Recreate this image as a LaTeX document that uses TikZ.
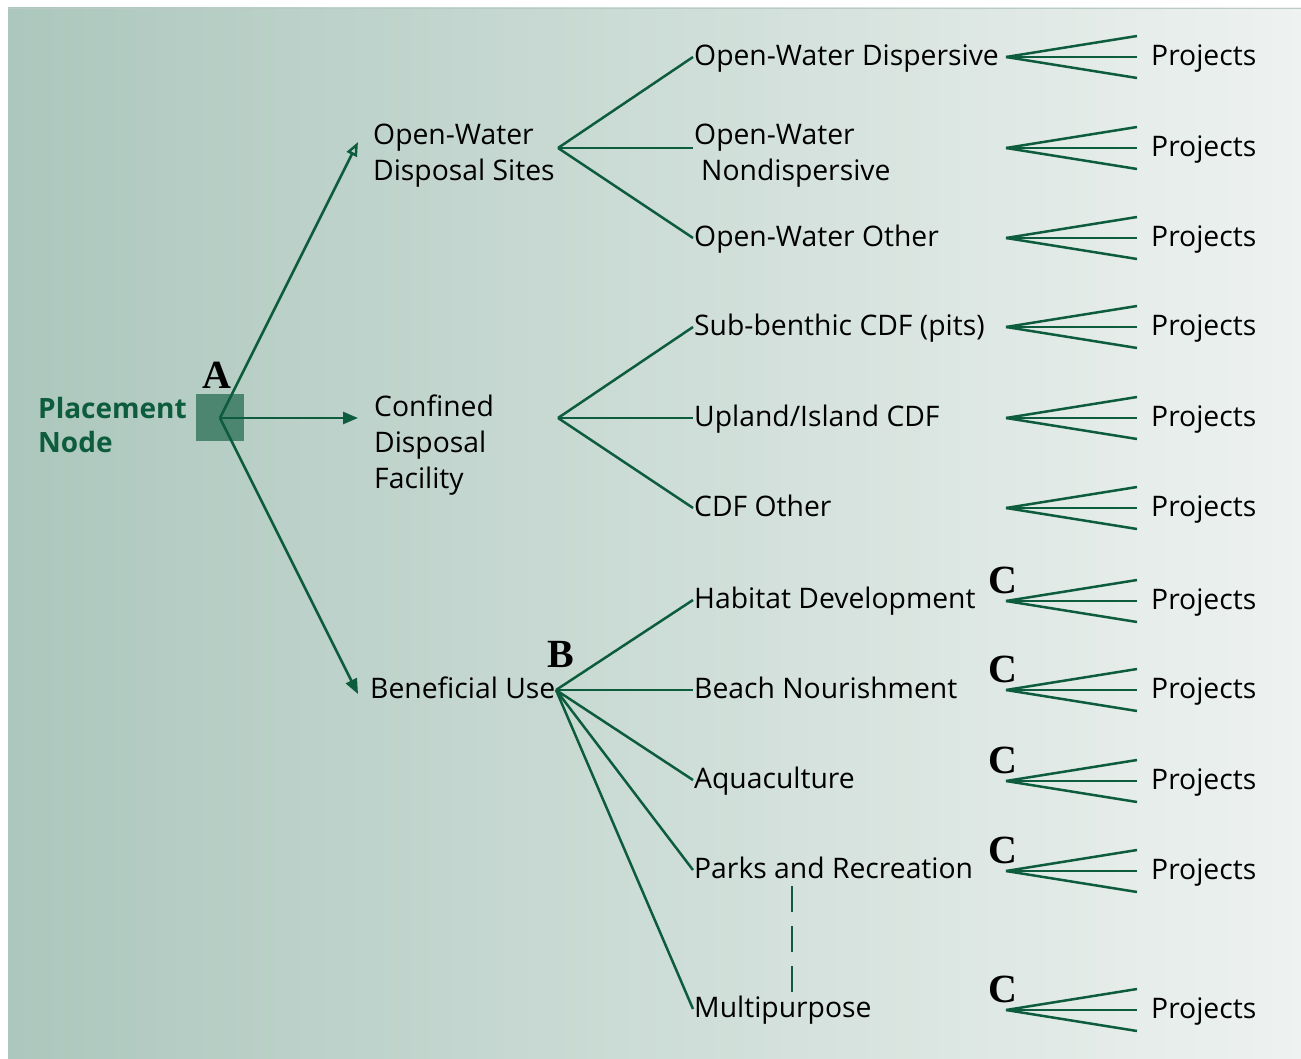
\documentclass[tikz,border=0pt]{standalone}
\usepackage{fontspec}
\setmainfont{Open Sans}
\newfontfamily\lettfont{Liberation Serif}
\usetikzlibrary{arrows.meta}
\definecolor{dg}{HTML}{0D5C3E}
\definecolor{bgL}{HTML}{ACC7BD}
\definecolor{bgR}{HTML}{EEF2F0}
\definecolor{bgline}{HTML}{B9CBC4}
\definecolor{sq}{HTML}{4C8670}
\begin{document}
\begin{tikzpicture}[x=1pt,y=-1pt,
  conn/.style={draw=dg, line width=2.5pt},
  lbl/.style={font=\fontsize{28.3}{36}\selectfont, text=black, inner xsep=1pt, inner ysep=0pt, anchor=west, align=left},
  one/.style={lbl, text height=22pt, text depth=5pt},
  proj/.style={one, inner xsep=14pt},
  letter/.style={font=\lettfont\bfseries\fontsize{40}{40}\selectfont, anchor=base, inner sep=0pt},
  tipopen/.style={-{Triangle[open, length=14pt, width=11pt]}},
  tipfill/.style={-{Triangle[length=15pt, width=12pt]}}]
\useasboundingbox (0,0) rectangle (1301,1059);
\shade[left color=bgL, right color=bgR] (8,8) rectangle (1301,1059);
\draw[bgline, line width=1.5pt] (8,8.5) -- (1301,8.5);

% placement node
\node[fill=sq, minimum width=48pt, minimum height=47pt, inner sep=0pt] (sq) at (220,417.5) {};
\node[font=\bfseries\fontsize{28}{34}\selectfont, text=dg, align=left, anchor=west, inner sep=0pt] (pl) at (38,425) {Placement\\Node};
\coordinate (hA) at (220,418);
\node[letter] (A) at (217,388) {A};

% level 1
\node[lbl, inner xsep=15pt] (ows) at (358,156) {Open-Water\\Disposal Sites};
\node[lbl, inner xsep=16pt] (cdf) at (358,445) {Confined\\Disposal\\Facility};
\node[one, inner xsep=12pt] (bu) at (358,690) {Beneficial Use};

\draw[conn, tipopen] (hA) -- ([yshift=14pt]ows.west);
\draw[conn, tipfill] (hA) -- ([yshift=27pt]cdf.west);
\draw[conn, tipfill] (hA) -- ([yshift=-4pt]bu.west);

\coordinate (h1) at (558,148);
\coordinate (h2) at (558,418);
\coordinate (hB) at (556,690);
\node[letter] (B) at (561,667) {B};

% level 2
\node[one] (m1) at (693,57) {Open-Water Dispersive};
\node[lbl] (m2) at (693,156) {Open-Water\\\hspace*{7pt}Nondispersive};
\node[one] (m3) at (693,238) {Open-Water Other};
\node[one] (m4) at (693,327) {Sub-benthic CDF (pits)};
\node[one] (m5) at (693,418) {Upland/Island CDF};
\node[one] (m6) at (693,508) {CDF Other};
\node[one] (m7) at (693,600) {Habitat Development};
\node[one] (m8) at (693,690) {Beach Nourishment};
\node[one] (m9) at (693,780) {Aquaculture};
\node[one] (m10) at (693,870) {Parks and Recreation};
\node[one] (m11) at (693,1009) {Multipurpose};

\draw[conn] (h1) -- (m1.west);
\draw[conn] (h1) -- ([yshift=8pt]m2.west);
\draw[conn] (h1) -- (m3.west);
\draw[conn] (h2) -- (m4.west);
\draw[conn] (h2) -- (m5.west);
\draw[conn] (h2) -- (m6.west);
\foreach \k in {7,...,11} {\draw[conn] (hB) -- (m\k.west);}

\coordinate (d1) at (792,886);
\coordinate (d2) at (792,992);
\draw[dg, line width=2pt, dash pattern=on 26pt off 14pt] (d1) -- (d2);

% fans
\foreach \i/\y in {1/57,2/148,3/238,4/327,5/418,6/508,7/601,8/690,9/781,10/871,11/1010} {
  \coordinate (f\i) at (1006,\y);
  \node[proj] (p\i) at (1137,\y) {Projects};
  \draw[conn] (f\i) -- (p\i.west);
  \draw[conn] (f\i) -- ([yshift=21pt]p\i.west);
  \draw[conn] (f\i) -- ([yshift=-21pt]p\i.west);
}
\foreach \i/\y in {7/601,8/690,9/781,10/871,11/1010} {
  \node[letter] (c\i) at (1003,\y-8) {C};
}
\end{tikzpicture}
\end{document}
